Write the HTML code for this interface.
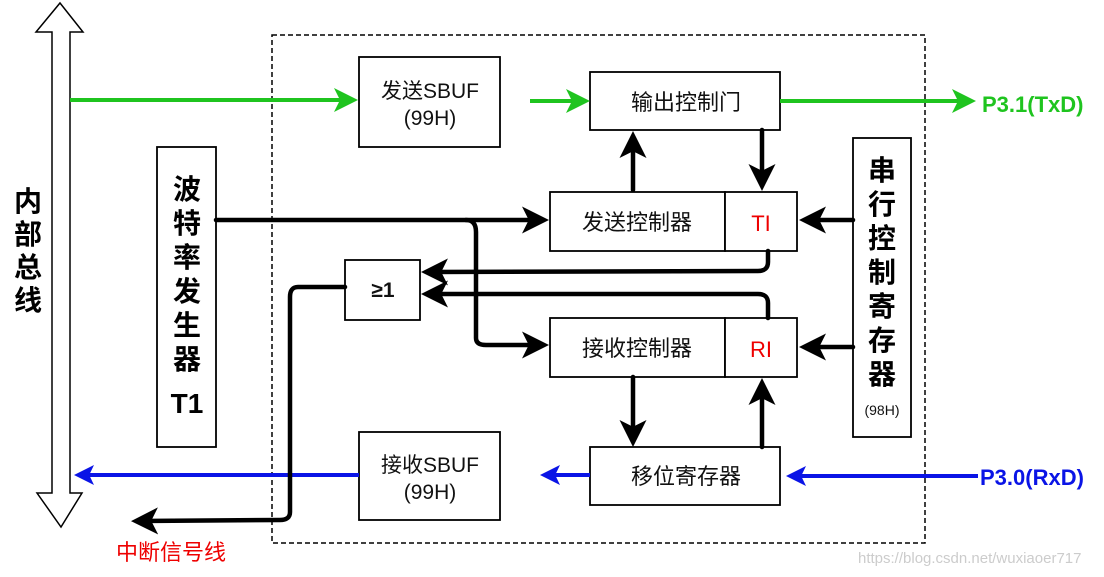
<!DOCTYPE html>
<html><head><meta charset="utf-8"><style>
body{margin:0;background:#fff;}
svg{display:block;font-family:"Liberation Sans","Noto Sans CJK SC",sans-serif;}
</style></head><body>
<svg width="1104" height="577" viewBox="0 0 1104 577" xmlns="http://www.w3.org/2000/svg">
<defs>
<marker id="ab" markerWidth="6" markerHeight="6" refX="4" refY="3" orient="auto" markerUnits="strokeWidth"><path d="M0,0 L6,3 L0,6 L1.5,3z" fill="#000"/></marker>
<marker id="ag" markerWidth="6" markerHeight="6" refX="4" refY="3" orient="auto" markerUnits="strokeWidth"><path d="M0,0 L6,3 L0,6 L1.5,3z" fill="#1fc41f"/></marker>
<marker id="abl" markerWidth="5" markerHeight="5" refX="3.5" refY="2.5" orient="auto" markerUnits="strokeWidth"><path d="M0,0 L5,2.5 L0,5 L1.2,2.5z" fill="#0a14e6"/></marker>
</defs>
<path d="M60,3 L83,32 L70,32 L70,493 L82,493 L61,527 L37,493 L52,493 L52,32 L36,32 Z" fill="#fff" stroke="#000" stroke-width="1.5"/>
<text font-weight="bold" font-size="28" fill="#000" text-anchor="middle"><tspan x="28" y="211">内</tspan><tspan x="28" y="244">部</tspan><tspan x="28" y="277">总</tspan><tspan x="28" y="310">线</tspan></text>
<rect x="272" y="35" width="653" height="508" fill="none" stroke="#000" stroke-width="1.5" stroke-dasharray="5,3"/>
<g fill="#fff" stroke="#000" stroke-width="1.8">
<rect x="359" y="57" width="141" height="90"/>
<rect x="590" y="72" width="190" height="58"/>
<rect x="157" y="147" width="59" height="300"/>
<rect x="550" y="192" width="175" height="59"/>
<rect x="725" y="192" width="72" height="59"/>
<rect x="550" y="318" width="175" height="59"/>
<rect x="725" y="318" width="72" height="59"/>
<rect x="345" y="260" width="75" height="60"/>
<rect x="853" y="138" width="58" height="299"/>
<rect x="359" y="432" width="141" height="88"/>
<rect x="590" y="447" width="190" height="58"/>
</g>
<g stroke="#1fc41f" stroke-width="4" fill="none">
<line x1="70" y1="100" x2="350" y2="100" marker-end="url(#ag)"/>
<line x1="530" y1="101" x2="582" y2="101" marker-end="url(#ag)"/>
<line x1="780" y1="101" x2="968" y2="101" marker-end="url(#ag)"/>
</g>
<g stroke="#0a14e6" stroke-width="4" fill="none">
<line x1="359" y1="475" x2="80" y2="475" marker-end="url(#abl)"/>
<line x1="590" y1="475" x2="546" y2="475" marker-end="url(#abl)"/>
<line x1="978" y1="476" x2="792" y2="476" marker-end="url(#abl)"/>
</g>
<g stroke="#000" stroke-width="4.5" fill="none" stroke-linecap="round">
<line x1="216" y1="220" x2="540" y2="220" marker-end="url(#ab)"/>
<path d="M466,220 Q476,220 476,232 L476,338 Q476,345 486,345 L540,345" marker-end="url(#ab)"/>
<path d="M768,251 L768,262 Q768,271 758,271 L430,272" marker-end="url(#ab)"/>
<path d="M768,318 L768,303 Q768,294 758,294 L430,294" marker-end="url(#ab)"/>
<path d="M345,287 L298,287 Q290,287 290,297 L290,512 Q290,520 280,520 L140,521" marker-end="url(#ab)"/>
<line x1="633" y1="190" x2="633" y2="140" marker-end="url(#ab)"/>
<line x1="762" y1="130" x2="762" y2="182" marker-end="url(#ab)"/>
<line x1="853" y1="220" x2="808" y2="220" marker-end="url(#ab)"/>
<line x1="853" y1="347" x2="808" y2="347" marker-end="url(#ab)"/>
<line x1="633" y1="377" x2="633" y2="438" marker-end="url(#ab)"/>
<line x1="762" y1="447" x2="762" y2="387" marker-end="url(#ab)"/>
</g>
<g font-size="21" fill="#111" text-anchor="middle">
<text x="430" y="98">发送SBUF</text><text x="430" y="125">(99H)</text>
<text x="686" y="110" font-size="22">输出控制门</text>
<text x="637" y="230" font-size="22">发送控制器</text>
<text x="637" y="356" font-size="22">接收控制器</text>
<text x="430" y="472">接收SBUF</text><text x="430" y="499">(99H)</text>
<text x="686" y="484" font-size="22">移位寄存器</text>
<text x="761" y="231" fill="#e00" font-size="22">TI</text>
<text x="761" y="357" fill="#e00" font-size="22">RI</text>
<text x="383" y="297" font-weight="bold">≥1</text>
</g>
<text font-weight="bold" font-size="28" fill="#000" text-anchor="middle"><tspan x="187" y="199">波</tspan><tspan x="187" y="233">特</tspan><tspan x="187" y="267">率</tspan><tspan x="187" y="301">发</tspan><tspan x="187" y="335">生</tspan><tspan x="187" y="369">器</tspan><tspan x="187" y="413">T1</tspan></text>
<text font-weight="bold" font-size="28" fill="#000" text-anchor="middle"><tspan x="882" y="180">串</tspan><tspan x="882" y="214">行</tspan><tspan x="882" y="248">控</tspan><tspan x="882" y="282">制</tspan><tspan x="882" y="316">寄</tspan><tspan x="882" y="350">存</tspan><tspan x="882" y="384">器</tspan></text>
<text x="882" y="415" font-size="14" text-anchor="middle" fill="#111">(98H)</text>
<text x="982" y="112" font-size="22" font-weight="bold" fill="#1fc41f">P3.1(TxD)</text>
<text x="980" y="485" font-size="22" font-weight="bold" fill="#0a14e6">P3.0(RxD)</text>
<text x="116" y="560" font-size="22" fill="#e00">中断信号线</text>
<text x="858" y="563" font-size="15" fill="#ccc">https://blog.csdn.net/wuxiaoer717</text>
</svg>
</body></html>
